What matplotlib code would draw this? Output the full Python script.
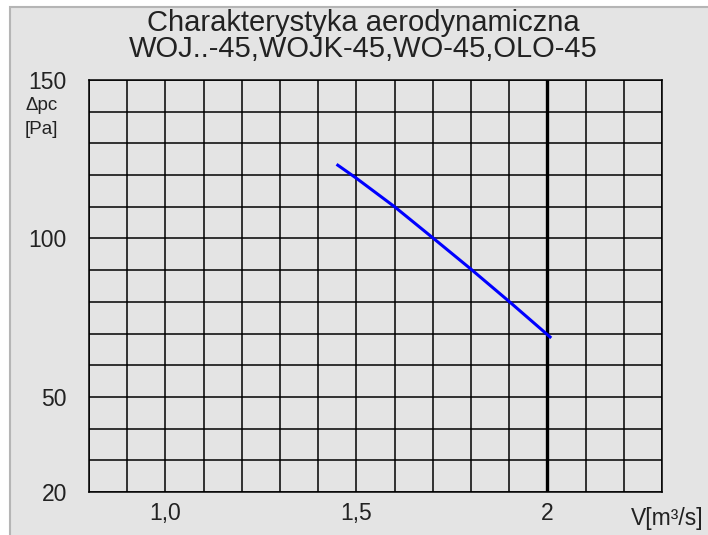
import matplotlib
matplotlib.use("Agg")
import matplotlib.pyplot as plt
from matplotlib.patches import Rectangle
import numpy as np

plt.rcParams['font.family'] = ['Liberation Sans', 'DejaVu Sans']

# Data
flow = [1.448, 1.50, 1.60, 1.70, 1.80, 1.90, 2.01]
pressure = [123.4, 119.0, 110.0, 100.2, 90.3, 80.1, 68.6]
x_ticks = [1.0, 1.5, 2.0]
x_tick_labels = ["1,0", "1,5", "2"]
y_ticks = [20, 50, 100, 150]
y_tick_labels = ["20", "50", "100", "150"]
x_grid = np.round(np.arange(0.8, 2.301, 0.1), 2)
y_grid = np.arange(20, 151, 10)

fig = plt.figure(figsize=(7.08, 5.35), dpi=100)
fig.patch.set_facecolor('white')
fig.patches.append(Rectangle((9.5/708, -0.02), 1.05, 1.02 - 6.5/535, transform=fig.transFigure,
                             facecolor='#e4e4e4', edgecolor='#b5b5b5', lw=1.5, zorder=-10))

ax = fig.add_axes([89/708, 1 - 492/535, (662 - 89)/708, (492 - 80)/535])
ax.set_facecolor('#e4e4e4')
ax.set_xlim(0.8, 2.3)
ax.set_ylim(20, 150)

for xv in x_grid:
    ax.axvline(xv, color='black', lw=2.4 if abs(xv - 2.0) < 1e-6 else 1.1, zorder=1)
for yv in y_grid:
    ax.axhline(yv, color='black', lw=1.1, zorder=1)

ax.plot(flow, pressure, color='#0000ff', lw=2.2, zorder=3, solid_capstyle='butt',
        solid_joinstyle='round')

ax.set_xticks(x_ticks)
ax.set_xticklabels(x_tick_labels, fontsize=16.5, color='#222222')
ax.set_yticks(y_ticks)
ax.set_yticklabels(y_tick_labels, fontsize=16.5, color='#222222')
ax.tick_params(axis='x', length=0, pad=7)
ax.tick_params(axis='y', length=0, pad=16)
for s in ax.spines.values():
    s.set_color('black')
    s.set_linewidth(1.1)

fig.text(363/708, 1 - 23/535, "Charakterystyka aerodynamiczna", ha='center', va='center',
         fontsize=21, color='#222222')
fig.text(363/708, 1 - 49/535, "WOJ..-45,WOJK-45,WO-45,OLO-45", ha='center', va='center',
         fontsize=21, color='#222222')
fig.text(25/708, 1 - 105/535, "\u0394pc", ha='left', va='center', fontsize=13.5, color='#222222')
fig.text(25/708, 1 - 130/535, "[Pa]", ha='left', va='center', fontsize=13.5, color='#222222')
fig.text(704/708, 1 - 519/535, "V[m\u00b3/s]", ha='right', va='center', fontsize=16.5, color='#222222')

fig.savefig("out.png", dpi=100)
